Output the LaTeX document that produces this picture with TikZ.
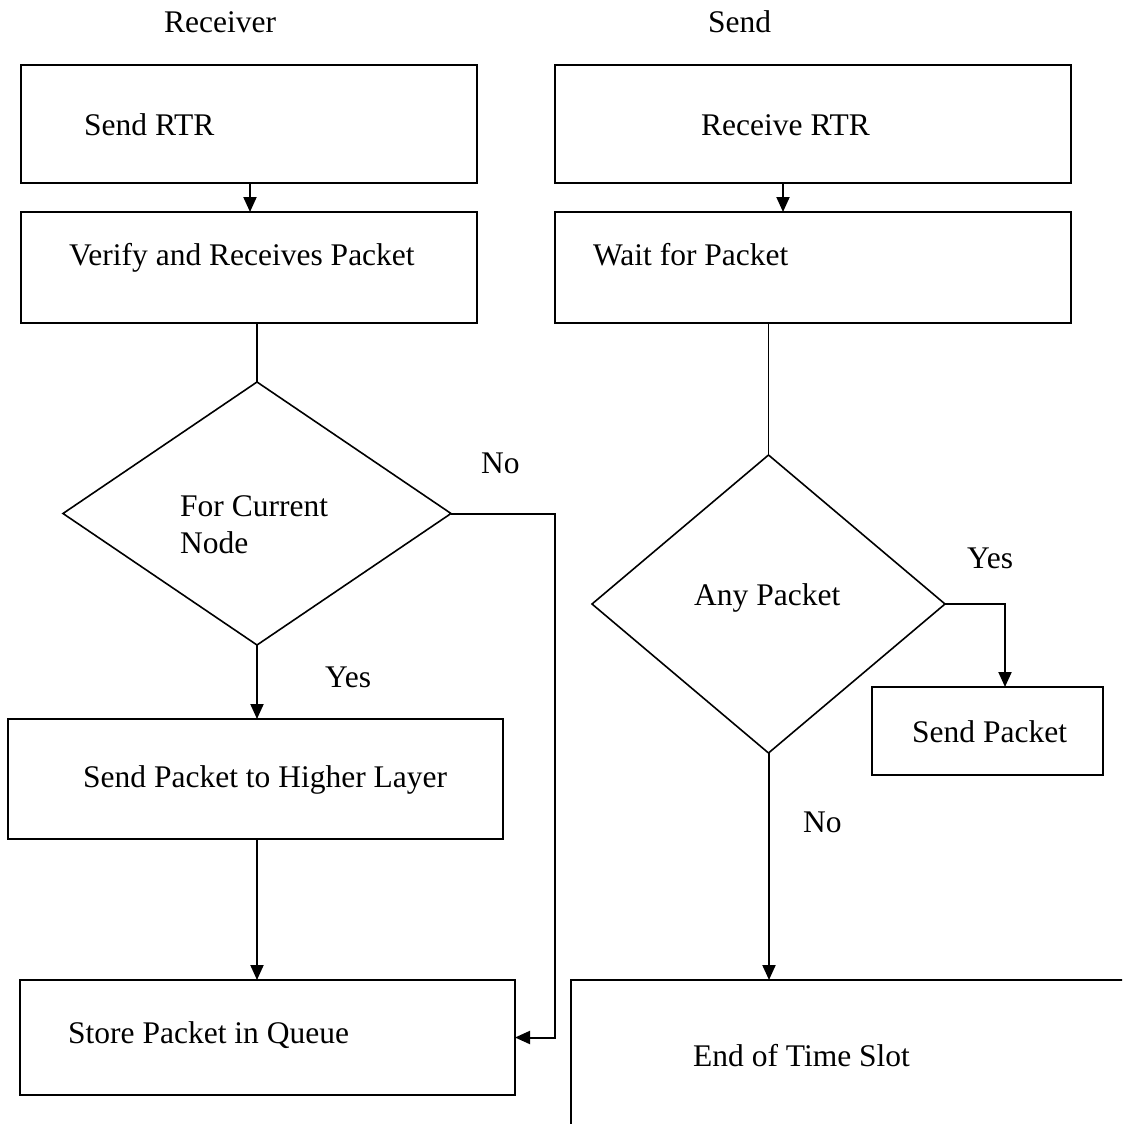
\documentclass[tikz,border=0pt]{standalone}
\usepackage{fontspec}
\setmainfont{Liberation Serif}
\usetikzlibrary{shapes.geometric,arrows.meta}

\begin{document}
\begin{tikzpicture}[x=1pt,y=-1pt,
  box/.style={draw,line width=1.8pt,rectangle,inner sep=0pt,outer sep=0pt},
  decision/.style={draw,line width=1.6pt,diamond,inner sep=0pt,outer sep=0pt},
  txt/.style={inner sep=0pt,anchor=base west},
  link/.style={line width=1.8pt},
  flow/.style={line width=2pt,-{Triangle[length=15pt,width=13pt]}},
  font=\fontsize{31.5}{38}\selectfont]
  \useasboundingbox (0,0) rectangle (1122,1124);
  \clip (0,0) rectangle (1122,1124);

  % column headings
  \node[txt] (hrecv) at (164,33) {Receiver};
  \node[txt] (hsend) at (708,33) {Send};

  % receiver side
  \node[box,minimum width=456pt,minimum height=118pt] (b1) at (249,124) {};
  \node[box,minimum width=456pt,minimum height=111pt] (b2) at (249,267.5) {};
  \node[decision,minimum width=388pt,minimum height=263pt] (d1) at (257,513.5) {};
  \node[box,minimum width=495pt,minimum height=120pt] (b3) at (255.5,779) {};
  \node[box,minimum width=495pt,minimum height=115pt] (b4) at (267.5,1037.5) {};

  \node[txt] (t1) at (84,135) {Send RTR};
  \node[txt] (t2) at (69,265) {Verify and Receives Packet};
  \node[txt] (t3a) at (180,516) {For Current};
  \node[txt] (t3b) at (180,553) {Node};
  \node[txt] (t4) at (83,787) {Send Packet to Higher Layer};
  \node[txt] (t5) at (68,1043) {Store Packet in Queue};
  \node[txt] (lno1) at (481,473) {No};
  \node[txt] (lyes1) at (325,687) {Yes};

  % sender side
  \node[box,minimum width=516pt,minimum height=118pt] (b5) at (813,124) {};
  \node[box,minimum width=516pt,minimum height=111pt] (b6) at (813,267.5) {};
  \node[decision,minimum width=353pt,minimum height=298pt] (d2) at (768.5,604) {};
  \node[box,minimum width=231pt,minimum height=88pt] (b7) at (987.5,731) {};
  \node[box,minimum width=600pt,minimum height=200pt] (b8) at (871,1080) {};

  \node[txt] (t6) at (701,135) {Receive RTR};
  \node[txt] (t7) at (593,265) {Wait for Packet};
  \node[txt] (t8) at (694,605) {Any Packet};
  \node[txt] (t9) at (912,742) {Send Packet};
  \node[txt] (t10) at (693,1066) {End of Time Slot};
  \node[txt] (lyes2) at (967,568) {Yes};
  \node[txt] (lno2) at (803,832) {No};

  % connector columns
  \coordinate (xa) at (250,0);
  \coordinate (xb) at (783,0);
  \coordinate (xc) at (1005,0);
  \coordinate (xd) at (769,0);
  \coordinate (noR) at (555,1037.5);

  % receiver connectors
  \draw[flow] (b1.south -| xa) -- (b2.north -| xa);
  \draw[link] (b2.south -| d1.north) -- (d1.north);
  \draw[flow] (d1.south) -- (b3.north -| d1.south);
  \draw[flow] (b3.south -| d1.south) -- (b4.north -| d1.south);
  \draw[flow] (d1.east) -| (noR) -- (b4.east);

  % sender connectors
  \draw[flow] (b5.south -| xb) -- (b6.north -| xb);
  \draw[link] (b6.south -| d2.north) -- (d2.north);
  \draw[flow] (d2.east) -| (b7.north -| xc);
  \draw[flow] (d2.south -| xd) -- (b8.north -| xd);
\end{tikzpicture}
\end{document}
